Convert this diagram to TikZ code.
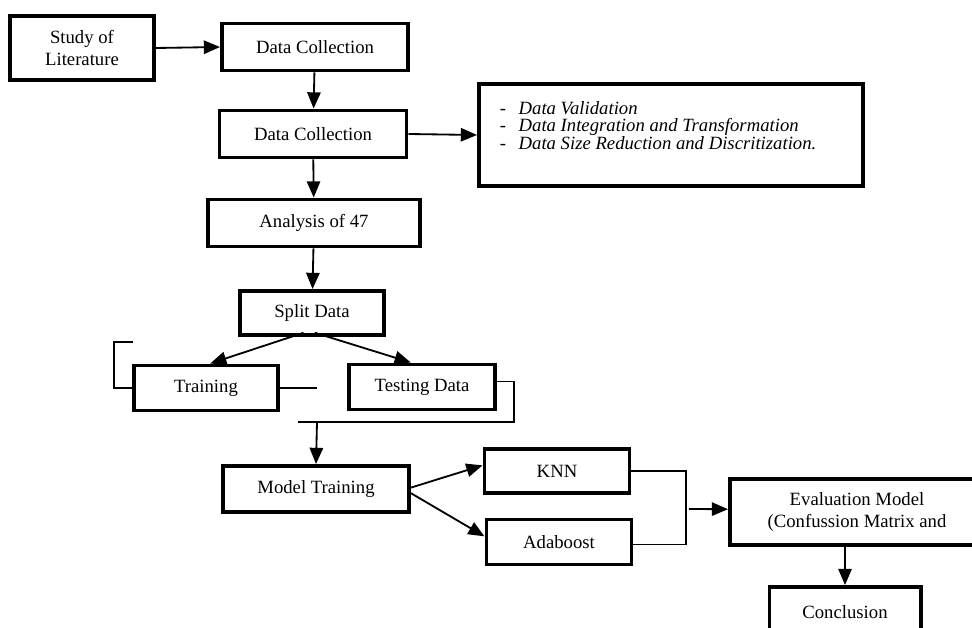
\documentclass[tikz,border=0pt]{standalone}
\usepackage{fontspec}
\setmainfont{Liberation Serif}
\usetikzlibrary{positioning, arrows.meta}
\tikzset{% 
	stage/.style = {draw, line width = 2.8pt, inner sep = 2pt, align = center, font = \fontsize{13.3pt}{15pt}\selectfont},
	notes/.style = {inner sep = 0pt, align = left, font = \fontsize{13.3pt}{12pt}\selectfont},
	>={Triangle[length = 11.5pt, width = 9.5pt]},
	every edge/.append style={line width = 1.3pt},
	wire/.style = {line width = 0.8pt}
}

\begin{document}
\begin{tikzpicture}[x=0.025cm, y=-0.025cm]
			\useasboundingbox (0,0) rectangle (972,628);
			\clip (0,0) rectangle (972,628);
			\node [stage, minimum width = 3.6cm, minimum height = 1.6cm] (Lit) at (82,48) {Study of\\Literature};
			\node [stage, minimum width = 4.65cm, minimum height = 1.175cm] (Collect) at (315,47) {Data Collection};
			\node [stage, minimum width = 4.675cm, minimum height = 1.175cm] (Prep) at (313,134) {Data Collection};
			\node [stage, minimum width = 9.6cm, minimum height = 2.55cm] (Clean) at (671,135) {};
			\node [notes, anchor = north west] (CleanTxt) at ([xshift = 16pt, yshift = -13.5pt]Clean.north west)
				{-\hspace{9pt}\textit{Data Validation}\\-\hspace{9pt}\textit{Data Integration and Transformation}\\-\hspace{9pt}\textit{Data Size Reduction and Discritization.}};
			\node [stage, minimum width = 5.3cm, minimum height = 1.175cm] (Analysis) at (314,223) {Analysis of 47};
			\node [stage, minimum width = 3.6cm, minimum height = 1.1cm] (Split) at (312,313) {Split Data};
			\node [stage, minimum width = 3.6cm, minimum height = 1.125cm] (Train) at (206,388) {Training};
			\node [stage, minimum width = 3.65cm, minimum height = 1.125cm] (Test) at (422,387) {Testing Data};
			\node [stage, minimum width = 4.65cm, minimum height = 1.15cm] (Model) at (316,489) {Model Training};
			\node [stage, minimum width = 3.625cm, minimum height = 1.1cm] (KNN) at (557,471) {KNN};
			\node [stage, minimum width = 3.625cm, minimum height = 1.125cm] (Ada) at (559,542) {Adaboost};
			\node [stage, minimum width = 6.35cm, minimum height = 1.65cm] (Eval) at (857,512) {Evaluation Model\\(Confussion Matrix and};
			\node [stage, minimum width = 3.775cm, minimum height = 1.25cm] (Concl) at (845,612) {Conclusion};
			% loose ends of the thin joints
			\coordinate (TrainTop) at (133,342);
			\coordinate (TrainEnd) at (317,388);
			\coordinate (MergeL) at (298,422);
			\coordinate (MergeA) at (317,422);
			\coordinate (JoinK) at (686,509);
			\path [->] (Lit.east) edge (Collect.west);
			\path [->] (Collect) edge (Prep);
			\path [->] (Prep.east) edge (Clean.west);
			\path [->] (Prep) edge (Analysis);
			\path [->] (Analysis) edge (Split);
			\path [->] ([xshift = -6pt, yshift = 3pt]Split.south) edge ([xshift = 3pt]Train.north);
			\path [->] ([xshift = 2pt, yshift = 3pt]Split.south) edge ([xshift = -8pt]Test.north);
			\draw [wire] (TrainTop) -- ++(-19,0) |- (Train.west);
			\draw [wire] (Train.east) -- (TrainEnd);
			\draw [wire] ([yshift = 4pt]Test.east) -- ++(17,0) |- (MergeL);
			\path [->] (MergeA) edge (Model.north);
			\path [->] ([yshift = 1pt]Model.east) edge ([yshift = 4pt]KNN.west);
			\path [->] ([yshift = -3pt]Model.east) edge ([yshift = 4pt]Ada.west);
			\draw [wire] (KNN.east) -| (JoinK) |- ([yshift = -2pt]Ada.east);
			\path [->] ([xshift = 2pt]JoinK) edge ([yshift = 2pt]Eval.west);
			\path [->] (Concl.north |- Eval.south) edge (Concl.north);
			\end{tikzpicture}
\end{document}
